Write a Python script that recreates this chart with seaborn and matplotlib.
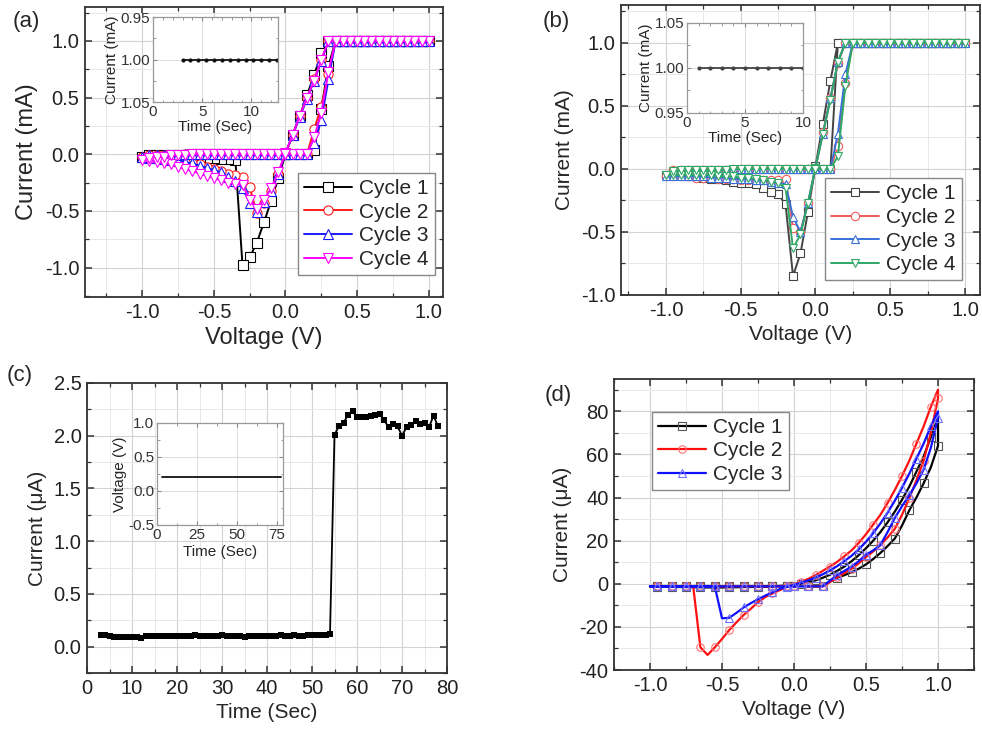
import matplotlib
matplotlib.use("Agg")
import matplotlib.pyplot as plt
import seaborn as sns
from matplotlib.ticker import MultipleLocator, FormatStrFormatter

sns.set_style("white")
plt.rcParams["font.family"] = ["Liberation Sans", "DejaVu Sans"]
plt.rcParams["axes.unicode_minus"] = False

# ---------------- data ----------------
# voltage sweep 0 -> 1 -> -1 -> 0 used in panels (a) and (b)
V_sweep = [0.00, 0.05, 0.10, 0.15, 0.20, 0.25, 0.30, 0.35, 0.40, 0.45, 0.50, 0.55, 0.60, 0.65, 0.70, 0.75, 0.80, 0.85, 0.90, 0.95, 1.00,
           0.95, 0.90, 0.85, 0.80, 0.75, 0.70, 0.65, 0.60, 0.55, 0.50, 0.45, 0.40, 0.35, 0.30, 0.25, 0.20, 0.15, 0.10, 0.05, 0.00,
           -0.05, -0.10, -0.15, -0.20, -0.25, -0.30, -0.35, -0.40, -0.45, -0.50, -0.55, -0.60, -0.65, -0.70, -0.75, -0.80, -0.85, -0.90, -0.95, -1.00,
           -0.95, -0.90, -0.85, -0.80, -0.75, -0.70, -0.65, -0.60, -0.55, -0.50, -0.45, -0.40, -0.35, -0.30, -0.25, -0.20, -0.15, -0.10, -0.05, 0.00]

# panel (a) currents (mA)
I_a1 = [0.00, 0.00, 0.00, 0.00, 0.04, 0.40, 0.78, 1.00, 1.00, 1.00, 1.00, 1.00, 1.00, 1.00, 1.00, 1.00, 1.00, 1.00, 1.00, 1.00, 1.00,
        1.00, 1.00, 1.00, 1.00, 1.00, 1.00, 1.00, 1.00, 1.00, 1.00, 1.00, 1.00, 1.00, 1.00, 0.89, 0.70, 0.52, 0.34, 0.17, 0.00,
        -0.21, -0.41, -0.60, -0.78, -0.91, -0.98, -0.05, -0.04, -0.04, -0.03, -0.03, -0.03, -0.03, -0.02, -0.02, -0.02, -0.02, -0.02, -0.02, -0.02,
        -0.01, -0.01, -0.01, -0.01, -0.01, -0.01, 0.00, 0.00, 0.00, 0.00, 0.00, 0.00, 0.00, 0.00, 0.00, 0.00, 0.00, 0.00, 0.00, 0.00]
I_a2 = [0.00, 0.00, 0.00, 0.00, 0.22, 0.42, 0.71, 1.00, 1.00, 1.00, 1.00, 1.00, 1.00, 1.00, 1.00, 1.00, 1.00, 1.00, 1.00, 1.00, 1.00,
        1.00, 1.00, 1.00, 1.00, 1.00, 1.00, 1.00, 1.00, 1.00, 1.00, 1.00, 1.00, 1.00, 1.00, 0.83, 0.66, 0.50, 0.34, 0.17, 0.01,
        -0.17, -0.32, -0.43, -0.52, -0.29, -0.20, -0.18, -0.17, -0.15, -0.13, -0.11, -0.09, -0.08, -0.07, -0.06, -0.05, -0.04, -0.03, -0.03, -0.02,
        -0.01, -0.01, -0.01, -0.01, -0.01, 0.00, 0.00, 0.00, 0.00, 0.00, 0.00, 0.00, 0.00, 0.00, 0.00, 0.00, 0.00, 0.00, 0.00, 0.00]
I_a3 = [0.00, 0.00, 0.00, 0.00, 0.10, 0.30, 0.66, 1.00, 1.00, 1.00, 1.00, 1.00, 1.00, 1.00, 1.00, 1.00, 1.00, 1.00, 1.00, 1.00, 1.00,
        1.00, 1.00, 1.00, 1.00, 1.00, 1.00, 1.00, 1.00, 1.00, 1.00, 1.00, 1.00, 1.00, 1.00, 0.82, 0.65, 0.49, 0.33, 0.17, 0.01,
        -0.17, -0.32, -0.42, -0.51, -0.43, -0.30, -0.24, -0.20, -0.16, -0.14, -0.12, -0.10, -0.08, -0.07, -0.06, -0.05, -0.04, -0.03, -0.03, -0.02,
        -0.01, -0.01, -0.01, -0.01, -0.01, 0.00, 0.00, 0.00, 0.00, 0.00, 0.00, 0.00, 0.00, 0.00, 0.00, 0.00, 0.00, 0.00, 0.00, 0.00]
I_a4 = [0.00, 0.00, 0.00, 0.00, 0.15, 0.36, 0.73, 1.00, 1.00, 1.00, 1.00, 1.00, 1.00, 1.00, 1.00, 1.00, 1.00, 1.00, 1.00, 1.00, 1.00,
        1.00, 1.00, 1.00, 1.00, 1.00, 1.00, 1.00, 1.00, 1.00, 1.00, 1.00, 1.00, 1.00, 1.00, 0.83, 0.65, 0.50, 0.34, 0.17, 0.01,
        -0.16, -0.30, -0.40, -0.48, -0.40, -0.27, -0.26, -0.25, -0.23, -0.21, -0.19, -0.17, -0.15, -0.13, -0.11, -0.09, -0.08, -0.07, -0.06, -0.05,
        -0.03, -0.02, -0.02, -0.01, -0.01, -0.01, 0.00, 0.00, 0.00, 0.00, 0.00, 0.00, 0.00, 0.00, 0.00, 0.00, 0.00, 0.00, 0.00, 0.00]

# panel (b) currents (mA)
I_b1 = [0.00, 0.00, 0.00, 1.00, 1.00, 1.00, 1.00, 1.00, 1.00, 1.00, 1.00, 1.00, 1.00, 1.00, 1.00, 1.00, 1.00, 1.00, 1.00, 1.00, 1.00,
        1.00, 1.00, 1.00, 1.00, 1.00, 1.00, 1.00, 1.00, 1.00, 1.00, 1.00, 1.00, 1.00, 1.00, 1.00, 1.00, 1.00, 0.70, 0.36, 0.02,
        -0.34, -0.67, -0.85, -0.28, -0.20, -0.18, -0.15, -0.12, -0.11, -0.11, -0.10, -0.09, -0.08, -0.08, -0.07, -0.06, -0.06, -0.05, -0.05, -0.05,
        -0.02, -0.02, -0.01, -0.01, -0.01, -0.01, -0.01, -0.01, -0.01, -0.01, 0.00, 0.00, 0.00, 0.00, 0.00, 0.00, 0.00, 0.00, 0.00, 0.00]
I_b2 = [0.00, 0.00, 0.00, 0.18, 0.68, 1.00, 1.00, 1.00, 1.00, 1.00, 1.00, 1.00, 1.00, 1.00, 1.00, 1.00, 1.00, 1.00, 1.00, 1.00, 1.00,
        1.00, 1.00, 1.00, 1.00, 1.00, 1.00, 1.00, 1.00, 1.00, 1.00, 1.00, 1.00, 1.00, 1.00, 1.00, 1.00, 0.84, 0.56, 0.29, 0.01,
        -0.27, -0.50, -0.47, -0.08, -0.09, -0.09, -0.09, -0.09, -0.09, -0.09, -0.08, -0.08, -0.08, -0.07, -0.07, -0.07, -0.06, -0.06, -0.06, -0.06,
        -0.01, -0.01, -0.01, -0.01, -0.01, -0.01, -0.01, -0.01, 0.00, 0.00, 0.00, 0.00, 0.00, 0.00, 0.00, 0.00, 0.00, 0.00, 0.00, 0.00]
I_b3 = [0.00, 0.00, 0.00, 0.28, 0.75, 1.00, 1.00, 1.00, 1.00, 1.00, 1.00, 1.00, 1.00, 1.00, 1.00, 1.00, 1.00, 1.00, 1.00, 1.00, 1.00,
        1.00, 1.00, 1.00, 1.00, 1.00, 1.00, 1.00, 1.00, 1.00, 1.00, 1.00, 1.00, 1.00, 1.00, 1.00, 1.00, 0.85, 0.56, 0.28, 0.01,
        -0.27, -0.50, -0.38, -0.12, -0.11, -0.10, -0.09, -0.09, -0.08, -0.08, -0.08, -0.07, -0.07, -0.07, -0.06, -0.06, -0.06, -0.06, -0.06, -0.06,
        -0.02, -0.01, -0.01, -0.01, -0.01, -0.01, -0.01, -0.01, 0.00, 0.00, 0.00, 0.00, 0.00, 0.00, 0.00, 0.00, 0.00, 0.00, 0.00, 0.00]
I_b4 = [0.00, 0.00, 0.00, 0.10, 0.66, 1.00, 1.00, 1.00, 1.00, 1.00, 1.00, 1.00, 1.00, 1.00, 1.00, 1.00, 1.00, 1.00, 1.00, 1.00, 1.00,
        1.00, 1.00, 1.00, 1.00, 1.00, 1.00, 1.00, 1.00, 1.00, 1.00, 1.00, 1.00, 1.00, 1.00, 1.00, 1.00, 0.85, 0.55, 0.28, 0.01,
        -0.27, -0.52, -0.63, -0.15, -0.11, -0.10, -0.09, -0.08, -0.07, -0.07, -0.06, -0.06, -0.06, -0.05, -0.05, -0.05, -0.05, -0.05, -0.05, -0.05,
        -0.02, -0.01, -0.01, -0.01, -0.01, -0.01, -0.01, -0.01, 0.00, 0.00, 0.00, 0.00, 0.00, 0.00, 0.00, 0.00, 0.00, 0.00, 0.00, 0.00]

# panel (c): current vs time (uA)
t_c = [3, 4, 5, 6, 7, 8, 9, 10, 11, 12, 13, 14, 15, 16, 17, 18, 19, 20, 21, 22, 23, 24, 25, 26, 27, 28,
       29, 30, 31, 32, 33, 34, 35, 36, 37, 38, 39, 40, 41, 42, 43, 44, 45, 46, 47, 48, 49, 50, 51, 52, 53, 54,
       55, 56, 57, 58, 59, 60, 61, 62, 63, 64, 65, 66, 67, 68, 69, 70, 71, 72, 73, 74, 75, 76, 77, 78]
I_c = [0.11, 0.11, 0.10, 0.09, 0.09, 0.09, 0.09, 0.09, 0.09, 0.08, 0.10, 0.10, 0.10, 0.10, 0.10, 0.10, 0.10, 0.10, 0.10, 0.10, 0.10, 0.11, 0.10, 0.10, 0.10, 0.10,
       0.10, 0.11, 0.10, 0.10, 0.10, 0.10, 0.09, 0.10, 0.10, 0.10, 0.10, 0.10, 0.10, 0.10, 0.11, 0.10, 0.10, 0.11, 0.10, 0.10, 0.11, 0.11, 0.11, 0.11, 0.11, 0.12,
       2.01, 2.09, 2.12, 2.20, 2.23, 2.18, 2.18, 2.18, 2.19, 2.20, 2.21, 2.15, 2.08, 2.11, 2.09, 2.00, 2.08, 2.10, 2.14, 2.11, 2.12, 2.08, 2.19, 2.09]

# panel (d): voltage sweep (with the turning point at 1 V recorded twice) and currents (uA)
V_d = [0.00, 0.05, 0.10, 0.15, 0.20, 0.25, 0.30, 0.35, 0.40, 0.45, 0.50, 0.55, 0.60, 0.65, 0.70, 0.75, 0.80, 0.85, 0.90, 0.95, 1.00,
       1.00, 0.95, 0.90, 0.85, 0.80, 0.75, 0.70, 0.65, 0.60, 0.55, 0.50, 0.45, 0.40, 0.35, 0.30, 0.25, 0.20, 0.15, 0.10, 0.05, 0.00,
       -0.05, -0.10, -0.15, -0.20, -0.25, -0.30, -0.35, -0.40, -0.45, -0.50, -0.55, -0.60, -0.65, -0.70, -0.75, -0.80, -0.85, -0.90, -0.95, -1.00,
       -0.95, -0.90, -0.85, -0.80, -0.75, -0.70, -0.65, -0.60, -0.55, -0.50, -0.45, -0.40, -0.35, -0.30, -0.25, -0.20, -0.15, -0.10, -0.05, 0.00]
I_d1 = [-1.2, -1.2, -1.2, -1.2, -1.0, 1.0, 2.8, 4.0, 5.4, 7.0, 9.0, 11.5, 14.3, 17.5, 21.0, 27.0, 34.0, 40.0, 46.6, 54.0, 64.0,
        77.0, 68.0, 59.0, 52.0, 45.0, 39.0, 33.5, 28.5, 24.0, 20.0, 16.5, 13.3, 10.5, 8.0, 6.0, 4.2, 2.8, 1.6, 0.7, 0.1, -0.5,
        -0.8, -1.0, -1.2, -1.3, -1.4, -1.5, -1.5, -1.6, -1.6, -1.7, -1.7, -1.7, -1.6, -1.6, -1.5, -1.5, -1.4, -1.4, -1.3, -1.3,
        -1.2, -1.2, -1.2, -1.2, -1.2, -1.2, -1.2, -1.2, -1.2, -1.2, -1.2, -1.2, -1.2, -1.2, -1.2, -1.2, -1.1, -1.1, -1.1, -1.2]
I_d2 = [-1.2, -1.2, -1.2, -1.2, -1.2, 0.8, 3.0, 5.0, 7.0, 9.5, 12.4, 15.0, 18.0, 21.5, 25.5, 32.0, 39.6, 48.0, 57.0, 70.0, 86.0,
        90.0, 82.0, 73.0, 65.0, 57.0, 50.0, 43.5, 37.5, 32.0, 27.5, 23.0, 19.0, 15.5, 12.8, 10.2, 8.0, 6.0, 4.0, 2.3, 1.0, -0.3,
        -1.5, -3.0, -4.5, -6.2, -8.5, -11.6, -14.5, -17.9, -21.5, -25.6, -29.5, -33.0, -29.5, -1.2, -1.2, -1.2, -1.2, -1.2, -1.2, -1.2,
        -1.2, -1.2, -1.2, -1.2, -1.2, -1.2, -1.2, -1.2, -1.2, -1.2, -1.2, -1.2, -1.2, -1.2, -1.2, -1.2, -1.2, -1.2, -1.2, -1.2]
I_d3 = [-1.2, -1.2, -1.2, -1.2, -1.2, 1.5, 4.0, 6.0, 8.0, 10.5, 13.5, 15.5, 18.0, 24.0, 30.5, 36.0, 41.0, 46.5, 53.0, 63.0, 77.0,
        80.0, 73.0, 65.0, 58.0, 51.0, 44.5, 38.5, 33.0, 28.0, 23.5, 19.5, 16.0, 13.0, 10.5, 8.2, 6.2, 4.4, 2.9, 1.6, 0.5, -0.5,
        -1.3, -2.5, -4.0, -5.5, -7.2, -9.0, -11.0, -13.5, -15.8, -16.0, -1.2, -1.2, -1.2, -1.2, -1.2, -1.2, -1.2, -1.2, -1.2, -1.2,
        -1.2, -1.2, -1.2, -1.2, -1.2, -1.2, -1.2, -1.2, -1.2, -1.2, -1.2, -1.2, -1.2, -1.2, -1.2, -1.2, -1.2, -1.2, -1.2, -1.2]

# insets
t_ia = [3.0, 3.8, 4.6, 5.4, 6.2, 7.0, 7.8, 8.6, 9.4, 10.2, 11.0, 11.8, 12.6]
I_ia = [1.00, 1.00, 1.00, 1.00, 1.00, 1.00, 1.00, 1.00, 1.00, 1.00, 1.00, 1.00, 1.00]
t_ib = [1, 2, 3, 4, 5, 6, 7, 8, 9, 10]
I_ib = [1.00, 1.00, 1.00, 1.00, 1.00, 1.00, 1.00, 1.00, 1.00, 1.00]
t_ic = [3, 78]
V_ic = [0.2, 0.2]

cycles4 = ["Cycle 1", "Cycle 2", "Cycle 3", "Cycle 4"]
cycles3 = ["Cycle 1", "Cycle 2", "Cycle 3"]

W, H = 982, 736
fig = plt.figure(figsize=(W / 100, H / 100), dpi=100)


def rect(x0, y0, x1, y1):
    return [x0 / W, 1 - y1 / H, (x1 - x0) / W, (y1 - y0) / H]


def main_style(ax, xmaj, xmin, ymaj, ymin, xfmt, yfmt, fs=14.5):
    ax.xaxis.set_major_locator(MultipleLocator(xmaj))
    ax.xaxis.set_minor_locator(MultipleLocator(xmin))
    ax.yaxis.set_major_locator(MultipleLocator(ymaj))
    ax.yaxis.set_minor_locator(MultipleLocator(ymin))
    ax.xaxis.set_major_formatter(FormatStrFormatter(xfmt))
    ax.yaxis.set_major_formatter(FormatStrFormatter(yfmt))
    ax.tick_params(which="both", direction="in", top=True, right=True,
                   bottom=True, left=True, color="#333333", labelcolor="#222222")
    ax.tick_params(which="major", length=5, width=1.1, labelsize=fs, pad=4)
    ax.tick_params(which="minor", length=3, width=0.9)
    ax.grid(True, which="major", color="#d2d2d2", linewidth=0.8)
    ax.grid(True, which="minor", color="#e8e8e8", linewidth=0.7)
    ax.set_axisbelow(True)
    for s in ax.spines.values():
        s.set_visible(True)
        s.set_color("#333333")
        s.set_linewidth(1.3)


def inset_style(ax, xmaj, xmin, ymaj, ymin, xfmt, yfmt):
    ax.set_facecolor("white")
    ax.xaxis.set_major_locator(MultipleLocator(xmaj))
    ax.xaxis.set_minor_locator(MultipleLocator(xmin))
    ax.yaxis.set_major_locator(MultipleLocator(ymaj))
    ax.yaxis.set_minor_locator(MultipleLocator(ymin))
    ax.xaxis.set_major_formatter(FormatStrFormatter(xfmt))
    ax.yaxis.set_major_formatter(FormatStrFormatter(yfmt))
    ax.tick_params(which="both", direction="in", top=True, right=True,
                   bottom=True, left=True, color="#888888", labelcolor="#333333")
    ax.tick_params(which="major", length=3, width=0.8, labelsize=11, pad=2)
    ax.tick_params(which="minor", length=1.8, width=0.6)
    ax.grid(True, which="major", color="#dddddd", linewidth=0.7)
    ax.set_axisbelow(True)
    for s in ax.spines.values():
        s.set_visible(True)
        s.set_color("#999999")
        s.set_linewidth(0.9)


def style_legend(ax, loc, anchor):
    leg = ax.legend(loc=loc, bbox_to_anchor=anchor, fontsize=15, frameon=True,
                    fancybox=False, edgecolor="#888888", framealpha=1,
                    handlelength=2.3, handletextpad=0.35, labelspacing=0.22,
                    borderpad=0.3, borderaxespad=0)
    leg.get_frame().set_linewidth(1.0)
    return leg


# ---------------- panel (a) ----------------
ax_a = fig.add_axes(rect(85, 7, 443, 297))
cols_a = ["#000000", "#ff1a1a", "#1a1aff", "#ff00ff"]
mk_a = ["s", "o", "^", "v"]
for I, c, m, lab in zip([I_a1, I_a2, I_a3, I_a4], cols_a, mk_a, cycles4):
    sns.lineplot(x=V_sweep, y=I, ax=ax_a, sort=False, estimator=None, color=c,
                 linewidth=1.4, marker=m, markersize=6.6, markerfacecolor="white",
                 markeredgecolor=c, markeredgewidth=0.8, label=lab)
ax_a.set_xlim(-1.4, 1.1)
ax_a.set_ylim(-1.26, 1.3)
main_style(ax_a, 0.5, 0.25, 0.5, 0.25, "%.1f", "%.1f")
ax_a.set_xlabel("Voltage (V)", fontsize=17, labelpad=4)
ax_a.set_ylabel("Current (mA)", fontsize=17, labelpad=5)
style_legend(ax_a, "upper right", (0.978, 0.428))

ia = fig.add_axes(rect(153, 17, 278, 102))
sns.lineplot(x=t_ia, y=I_ia, ax=ia, sort=False, estimator=None, color="#111111",
             linewidth=1.3, marker="o", markersize=3.0, markeredgewidth=0, legend=False)
ia.set_xlim(0, 12.7)
ia.set_ylim(1.05, 0.95)
inset_style(ia, 5, 1, 0.05, 0.025, "%.0f", "%.2f")
ia.set_xlabel("Time (Sec)", fontsize=11, labelpad=1)
ia.set_ylabel("Current (mA)", fontsize=11, labelpad=1)

# ---------------- panel (b) ----------------
ax_b = fig.add_axes(rect(621, 5, 980, 295))
cols_b = ["#444444", "#ef5a5a", "#3a70dc", "#2fa866"]
for I, c, m, lab in zip([I_b1, I_b2, I_b3, I_b4], cols_b, mk_a, cycles4):
    sns.lineplot(x=V_sweep, y=I, ax=ax_b, sort=False, estimator=None, color=c,
                 linewidth=1.4, marker=m, markersize=6.0, markerfacecolor="white",
                 markeredgecolor=c, markeredgewidth=0.8, label=lab)
ax_b.set_xlim(-1.3, 1.1)
ax_b.set_ylim(-1.0, 1.3)
main_style(ax_b, 0.5, 0.25, 0.5, 0.25, "%.1f", "%.1f")
ax_b.set_xlabel("Voltage (V)", fontsize=15, labelpad=4)
ax_b.set_ylabel("Current (mA)", fontsize=15, labelpad=5)
style_legend(ax_b, "upper right", (0.95, 0.403))

ib = fig.add_axes(rect(687, 23, 803, 113))
sns.lineplot(x=t_ib, y=I_ib, ax=ib, sort=False, estimator=None, color="#444444",
             linewidth=1.3, marker="o", markersize=3.0, markeredgewidth=0, legend=False)
ib.set_xlim(0, 10)
ib.set_ylim(0.95, 1.05)
inset_style(ib, 5, 1, 0.05, 0.025, "%.0f", "%.2f")
ib.set_xlabel("Time (Sec)", fontsize=11, labelpad=1)
ib.set_ylabel("Current (mA)", fontsize=11, labelpad=1)

# ---------------- panel (c) ----------------
ax_c = fig.add_axes(rect(87, 383, 447, 673))
sns.lineplot(x=t_c, y=I_c, ax=ax_c, sort=False, estimator=None, color="#000000",
             linewidth=1.3, marker="s", markersize=4.3, markerfacecolor="#000000",
             markeredgewidth=0, legend=False)
ax_c.set_xlim(0, 80)
ax_c.set_ylim(-0.25, 2.5)
main_style(ax_c, 10, 5, 0.5, 0.25, "%.0f", "%.1f")
ax_c.set_xlabel("Time (Sec)", fontsize=15, labelpad=4)
ax_c.set_ylabel("Current (\u03bcA)", fontsize=15, labelpad=5)

ic = fig.add_axes(rect(157, 423, 283, 525))
sns.lineplot(x=t_ic, y=V_ic, ax=ic, sort=False, estimator=None, color="#111111",
             linewidth=1.3, legend=False)
ic.set_xlim(0, 79)
ic.set_ylim(-0.5, 1.0)
inset_style(ic, 25, 12.5, 0.5, 0.25, "%.0f", "%.1f")
ic.set_xlabel("Time (Sec)", fontsize=11, labelpad=2)
ic.set_ylabel("Voltage (V)", fontsize=11, labelpad=1)

# ---------------- panel (d) ----------------
ax_d = fig.add_axes(rect(614, 379, 974, 670))
cols_d = ["#000000", "#ff1010", "#1010ff"]
edge_d = ["#555555", "#ff7070", "#7070ff"]
for I, c, e, m, lab in zip([I_d1, I_d2, I_d3], cols_d, edge_d, ["s", "o", "^"], cycles3):
    sns.lineplot(x=V_d, y=I, ax=ax_d, sort=False, estimator=None, color=c,
                 linewidth=1.6, marker=m, markersize=5.4, markerfacecolor="none",
                 markeredgecolor=e, markeredgewidth=0.8, markevery=2, label=lab)
ax_d.set_xlim(-1.25, 1.25)
ax_d.set_ylim(-40, 95)
main_style(ax_d, 0.5, 0.25, 20, 10, "%.1f", "%.0f")
ax_d.set_xlabel("Voltage (V)", fontsize=15, labelpad=4)
ax_d.set_ylabel("Current (\u03bcA)", fontsize=15, labelpad=5)
style_legend(ax_d, "upper left", (0.105, 0.888))

# panel letters
fig.text(13 / W, 1 - 21 / H, "(a)", fontsize=16, va="center", ha="left")
fig.text(543 / W, 1 - 22 / H, "(b)", fontsize=16, va="center", ha="left")
fig.text(7 / W, 1 - 375 / H, "(c)", fontsize=16, va="center", ha="left")
fig.text(545 / W, 1 - 395 / H, "(d)", fontsize=16, va="center", ha="left")

fig.savefig("out.png", dpi=100, facecolor="white")
